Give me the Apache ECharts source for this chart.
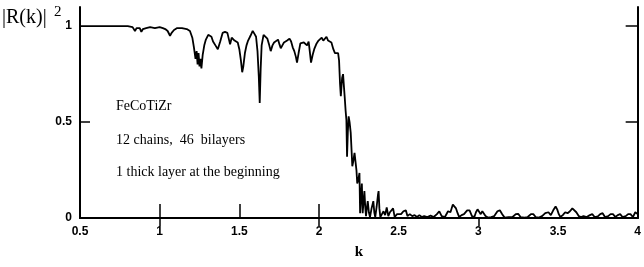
<!DOCTYPE html>
<html>
<head>
<meta charset="utf-8">
<script src="https://cdn.jsdelivr.net/npm/echarts@6/dist/echarts.min.js"></script>
<style>html,body{margin:0;padding:0;background:#fff}#c{width:644px;height:267px}</style>
</head>
<body>
<div id="c"></div>
<script>
var kValues = [0.50,0.60,0.70,0.80,0.83,0.845,0.855,0.865,0.875,0.885,0.895,0.905,0.915,0.94,0.97,1.00,1.02,1.035,1.05,1.065,1.075,1.09,1.11,1.14,1.17,1.19,1.205,1.215,1.225,1.232,1.238,1.244,1.25,1.256,1.262,1.27,1.28,1.29,1.305,1.315,1.325,1.335,1.35,1.365,1.38,1.395,1.41,1.425,1.435,1.442,1.452,1.462,1.47,1.48,1.49,1.50,1.51,1.518,1.525,1.535,1.545,1.555,1.57,1.584,1.595,1.605,1.614,1.622,1.628,1.634,1.64,1.652,1.664,1.676,1.688,1.697,1.708,1.718,1.73,1.743,1.752,1.76,1.77,1.78,1.79,1.80,1.815,1.825,1.835,1.845,1.855,1.862,1.872,1.883,1.895,1.905,1.915,1.925,1.935,1.942,1.95,1.96,1.97,1.985,1.997,2.007,2.017,2.027,2.037,2.047,2.057,2.067,2.078,2.09,2.10,2.11,2.12,2.126,2.132,2.137,2.145,2.151,2.157,2.161,2.167,2.172,2.176,2.181,2.186,2.192,2.199,2.204,2.209,2.216,2.223,2.23,2.235,2.24,2.247,2.254,2.258,2.264,2.269,2.274,2.28,2.285,2.29,2.295,2.30,2.306,2.313,2.32,2.33,2.341,2.347,2.353,2.362,2.37,2.374,2.379,2.385,2.395,2.405,2.415,2.425,2.435,2.445,2.455,2.465,2.475,2.49,2.5,2.515,2.53,2.545,2.555,2.57,2.585,2.60,2.615,2.63,2.645,2.66,2.68,2.70,2.72,2.74,2.755,2.77,2.79,2.81,2.825,2.84,2.85,2.86,2.87,2.88,2.895,2.91,2.93,2.945,2.96,2.975,2.985,2.995,3.005,3.015,3.025,3.035,3.045,3.06,3.08,3.10,3.12,3.135,3.15,3.165,3.19,3.215,3.235,3.25,3.265,3.29,3.31,3.33,3.345,3.36,3.38,3.40,3.42,3.43,3.44,3.455,3.47,3.485,3.495,3.505,3.515,3.53,3.545,3.56,3.575,3.59,3.60,3.615,3.63,3.645,3.66,3.68,3.70,3.715,3.73,3.75,3.765,3.78,3.795,3.815,3.83,3.845,3.86,3.875,3.89,3.905,3.925,3.94,3.955,3.97,3.985,4.0];
var rValues = [1.0,1.0,1.0,1.0,0.995,0.975,0.99,0.98,0.99,0.97,0.985,0.975,0.99,0.995,0.99,0.995,0.99,0.985,0.975,0.95,0.965,0.98,0.99,0.99,0.985,0.975,0.94,0.89,0.83,0.87,0.80,0.86,0.79,0.83,0.78,0.85,0.9,0.93,0.955,0.96,0.945,0.92,0.9,0.88,0.92,0.965,0.97,0.965,0.93,0.905,0.94,0.935,0.925,0.93,0.915,0.88,0.82,0.76,0.79,0.86,0.9,0.925,0.95,0.975,0.96,0.945,0.87,0.74,0.6,0.78,0.9,0.955,0.945,0.935,0.9,0.87,0.9,0.915,0.92,0.93,0.905,0.885,0.9,0.915,0.91,0.925,0.935,0.92,0.89,0.87,0.84,0.81,0.86,0.91,0.92,0.915,0.92,0.9,0.92,0.87,0.81,0.85,0.88,0.91,0.925,0.935,0.94,0.925,0.935,0.945,0.925,0.935,0.915,0.88,0.86,0.85,0.86,0.82,0.7,0.635,0.73,0.75,0.68,0.635,0.56,0.51,0.32,0.45,0.53,0.5,0.445,0.36,0.27,0.3,0.34,0.33,0.25,0.18,0.2,0.235,0.025,0.12,0.18,0.025,0.09,0.14,0.06,0.01,0.05,0.088,0.03,0.005,0.05,0.088,0.03,0.005,0.06,0.12,0.14,0.05,0.005,0.02,0.035,0.015,0.055,0.01,0.03,0.025,0.05,0.005,0.02,0.01,0.02,0.035,0.04,0.01,0.02,0.01,0.015,0.005,0.015,0.005,0.01,0.005,0.012,0.005,0.02,0.035,0.01,0.005,0.035,0.03,0.07,0.08,0.05,0.025,0.005,0.015,0.02,0.04,0.04,0.01,0.005,0.03,0.045,0.05,0.02,0.035,0.03,0.01,0.002,0.005,0.01,0.035,0.04,0.02,0.002,0.005,0.005,0.02,0.022,0.005,0.002,0.005,0.02,0.02,0.005,0.002,0.01,0.025,0.02,0.03,0.015,0.04,0.06,0.045,0.02,0.005,0.015,0.03,0.025,0.035,0.05,0.055,0.03,0.01,0.005,0.01,0.005,0.015,0.02,0.005,0.008,0.02,0.025,0.005,0.01,0.02,0.02,0.005,0.015,0.02,0.005,0.01,0.02,0.02,0.005,0.03,0.02];
var xTickLabels = [0.5,1,1.5,2,2.5,3,3.5,4];
var yTickLabels = [0,0.5,1];
var notes = ['FeCoTiZr','12 chains,  46  bilayers','1 thick layer at the beginning'];

var data = kValues.map(function(k,i){return [k, rValues[i]];});
var chart = echarts.init(document.getElementById('c'), null, {renderer:'canvas'});
var lab = {color:'#000', fontFamily:'Liberation Sans', fontWeight:'bold', fontSize:12};
chart.setOption({
  animation:false,
  backgroundColor:'#fff',
  grid:{left:80, right:2, top:7, bottom:49, containLabel:false},
  xAxis:[{
    type:'value', min:0.5, max:4, interval:0.5, position:'bottom',
    axisLine:{show:true, lineStyle:{color:'#000', width:2}},
    axisTick:{show:true, inside:true, length:14, customValues:[1,1.5,2], lineStyle:{color:'#000', width:1.5}},
    axisLabel:Object.assign({margin:8, customValues:xTickLabels}, lab),
    splitLine:{show:false},
    name:'k', nameLocation:'middle', nameGap:27,
    nameTextStyle:{color:'#000', fontFamily:'Liberation Serif', fontWeight:'bold', fontSize:15}
  },{
    type:'value', min:0.5, max:4, interval:0.5, position:'top',
    axisLine:{show:true, lineStyle:{color:'#000', width:2}},
    axisTick:{show:true, inside:true, length:8, customValues:[1,2,3], lineStyle:{color:'#000', width:1.5}},
    axisLabel:{show:false}, splitLine:{show:false}
  }],
  yAxis:[{
    type:'value', min:0, max:1.1, position:'left',
    axisLine:{show:true, lineStyle:{color:'#000', width:2}},
    axisTick:{show:true, inside:true, length:10, customValues:[0.5], lineStyle:{color:'#000', width:1.5}},
    axisLabel:Object.assign({margin:8, customValues:yTickLabels}, lab),
    splitLine:{show:false}
  },{
    type:'value', min:0, max:1.1, position:'right',
    axisLine:{show:true, lineStyle:{color:'#000', width:2}},
    axisTick:{show:true, inside:true, length:12, customValues:[0.5,1], lineStyle:{color:'#000', width:1.5}},
    axisLabel:{show:false}, splitLine:{show:false}
  }],
  graphic:[
    {type:'text', left:2, top:8, style:{text:'|R(k)|', font:'20px "Liberation Serif"', fill:'#000'}},
    {type:'text', left:54, top:5, style:{text:'2', font:'15px "Liberation Serif"', fill:'#000'}},
    {type:'text', left:116, top:99, style:{text:notes[0], font:'14px "Liberation Serif"', fill:'#000'}},
    {type:'text', left:116, top:133, style:{text:notes[1], font:'14px "Liberation Serif"', fill:'#000'}},
    {type:'text', left:116, top:165, style:{text:notes[2], font:'14px "Liberation Serif"', fill:'#000'}}
  ],
  series:[{
    type:'line', data:data, showSymbol:false, xAxisIndex:0, yAxisIndex:0,
    lineStyle:{color:'#000', width:1.8}, z:3
  }]
});
</script>
</body>
</html>
